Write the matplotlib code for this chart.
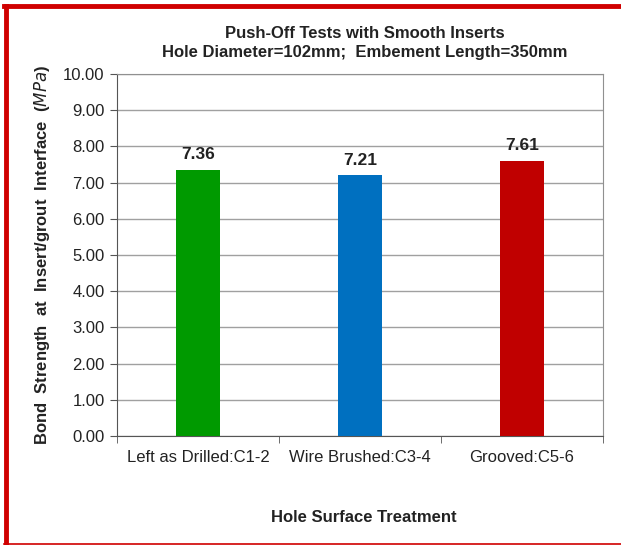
import matplotlib
matplotlib.use("Agg")
import matplotlib.pyplot as plt
from matplotlib.lines import Line2D

categories = ["Left as Drilled:C1-2", "Wire Brushed:C3-4", "Grooved:C5-6"]
values = [7.36, 7.21, 7.61]
colors = ["#009a00", "#0070c0", "#c00000"]
yticks = [0, 1, 2, 3, 4, 5, 6, 7, 8, 9, 10]

plt.rcParams['font.family'] = ['Liberation Sans', 'DejaVu Sans']

W, H = 621, 545
fig = plt.figure(figsize=(W/100, H/100), dpi=100)
ax = fig.add_axes([117/W, 1-436/H, (603-117)/W, (436-74)/H])

x = list(range(len(categories)))
ax.bar(x, values, width=0.27, color=colors, zorder=3)
for xi, v in zip(x, values):
    ax.text(xi, v + 0.2, f"{v:.2f}", ha='center', va='bottom', fontsize=12.5, fontweight='bold', color='#222222')

ax.set_xlim(-0.5, 2.5)
ax.set_ylim(0, 10)
ax.set_yticks(yticks)
ax.set_yticklabels([f"{t:.2f}" for t in yticks], fontsize=12, color='#222222')
ax.yaxis.grid(True, color='#a0a0a0', linewidth=1, zorder=0)
ax.set_xticks(x)
ax.set_xticklabels(categories, fontsize=12, color='#222222')
ax.tick_params(axis='x', length=0, pad=10)
ax.set_xticks([-0.5, 0.5, 1.5, 2.5], minor=True)
ax.tick_params(axis='x', which='minor', length=5, color='#555555')
ax.tick_params(axis='y', length=5, color='#555555', pad=4)
for s in ['top', 'right']:
    ax.spines[s].set_color('#909090')
for s in ['left', 'bottom']:
    ax.spines[s].set_color('#555555')

fig.text(365/W, 1-33/H, "Push-Off Tests with Smooth Inserts", ha='center', va='center', fontsize=12, fontweight='bold', color='#222222')
fig.text(365/W, 1-53/H, "Hole Diameter=102mm;  Embement Length=350mm", ha='center', va='center', fontsize=12, fontweight='bold', color='#222222')
fig.text(42/W, 1-255/H, r"Bond  Strength  at  Insert/grout  Interface  ($\mathbf{\mathit{MPa}}$)", rotation=90, ha='center', va='center', fontsize=12, fontweight='bold', color='#222222')
fig.text(364/W, 1-517/H, "Hole Surface Treatment", ha='center', va='center', fontsize=12, fontweight='bold', color='#222222')

# red frame (left, top, bottom)
fig.add_artist(Line2D([6/W, 6/W], [1-6/H, 1-544/H], transform=fig.transFigure, color='#d00000', linewidth=3.5))
fig.add_artist(Line2D([4/W, 1], [1-6/H, 1-6/H], transform=fig.transFigure, color='#d00000', linewidth=3.5))
fig.add_artist(Line2D([4/W, 1], [1-544/H, 1-544/H], transform=fig.transFigure, color='#d00000', linewidth=1.2))

fig.savefig("out.png", dpi=100)
